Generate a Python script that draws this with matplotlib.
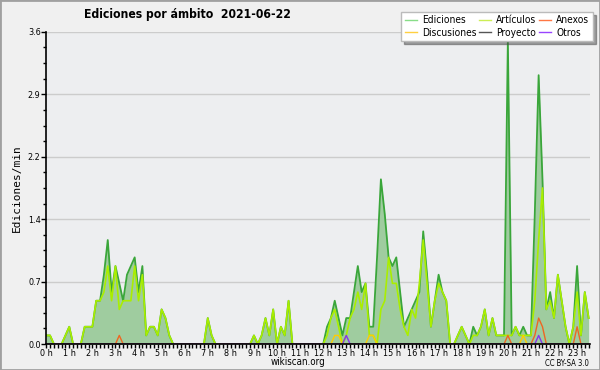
import numpy as np
import matplotlib
matplotlib.use("Agg")
import matplotlib.pyplot as plt
from matplotlib.lines import Line2D
from matplotlib.patches import Rectangle

# edits per minute, 10 minute buckets from 00:00
ediciones = [0.1, 0.1, 0, 0, 0, 0.1, 0.2, 0, 0, 0,
             0.2, 0.2, 0.2, 0.5, 0.5, 0.8, 1.2, 0.6, 0.9, 0.7,
             0.5, 0.8, 0.9, 1.0, 0.6, 0.9, 0.1, 0.2, 0.2, 0.1,
             0.4, 0.3, 0.1, 0, 0, 0, 0, 0, 0, 0,
             0, 0, 0.3, 0.1, 0, 0, 0, 0, 0, 0,
             0, 0, 0, 0, 0.1, 0, 0.1, 0.3, 0.1, 0.4,
             0, 0.2, 0.1, 0.5, 0, 0, 0, 0, 0, 0,
             0, 0, 0, 0.2, 0.3, 0.5, 0.3, 0.1, 0.3, 0.3,
             0.6, 0.9, 0.6, 0.7, 0.2, 0.2, 1.0, 1.9, 1.5, 1.0,
             0.9, 1.0, 0.6, 0.2, 0.3, 0.4, 0.5, 0.6, 1.3, 0.8,
             0.2, 0.5, 0.8, 0.6, 0.5, 0, 0, 0.1, 0.2, 0.1,
             0, 0.2, 0.1, 0.2, 0.4, 0.1, 0.3, 0.1, 0.1, 0.1,
             3.5, 0.1, 0.2, 0.1, 0.2, 0.1, 0.1, 1.5, 3.1, 1.9,
             0.4, 0.6, 0.3, 0.8, 0.5, 0.2, 0, 0.2, 0.9, 0.1,
             0.6, 0.3]
articulos = [0.1, 0.1, 0, 0, 0, 0.1, 0.2, 0, 0, 0,
             0.2, 0.2, 0.2, 0.5, 0.5, 0.6, 0.9, 0.5, 0.9, 0.4,
             0.5, 0.5, 0.5, 0.9, 0.5, 0.8, 0.1, 0.2, 0.2, 0.1,
             0.4, 0.3, 0.1, 0, 0, 0, 0, 0, 0, 0,
             0, 0, 0.3, 0.1, 0, 0, 0, 0, 0, 0,
             0, 0, 0, 0, 0.1, 0, 0.1, 0.3, 0.1, 0.4,
             0, 0.2, 0.1, 0.5, 0, 0, 0, 0, 0, 0,
             0, 0, 0, 0.1, 0.3, 0.4, 0.2, 0, 0.1, 0.3,
             0.4, 0.6, 0.4, 0.7, 0.1, 0.1, 0, 0.4, 0.5, 1.0,
             0.7, 0.7, 0.4, 0.2, 0.1, 0.4, 0.3, 0.7, 1.2, 0.7,
             0.2, 0.5, 0.7, 0.6, 0.5, 0, 0, 0.1, 0.2, 0.1,
             0, 0.1, 0.1, 0.2, 0.4, 0.1, 0.3, 0.1, 0.1, 0.1,
             0.1, 0.1, 0.2, 0.1, 0.1, 0.1, 0.1, 0.5, 1.2, 1.8,
             0.4, 0.5, 0.3, 0.8, 0.5, 0.2, 0, 0.2, 0.6, 0.1,
             0.6, 0.3]

n = len(ediciones)
anexos = np.zeros(n)
anexos[[19, 120, 127, 128, 129, 138]] = [0.1, 0.1, 0.1, 0.3, 0.2, 0.2]
discusiones = np.zeros(n)
discusiones[[75, 76, 84, 85, 124]] = [0.1, 0.1, 0.1, 0.1, 0.1]
proyecto = np.zeros(n)
otros = np.zeros(n)
otros[[78, 128]] = [0.1, 0.1]

hours = np.arange(n) / 6
hour_labels = [f"{h} h" for h in range(24)]

plt.rcParams["font.stretch"] = "condensed"

fig = plt.figure(figsize=(6, 3.7), dpi=100, facecolor="#f0f0f0")
ax = fig.add_axes([0.077, 0.07, 0.906, 0.844], facecolor="#edeef0")

ax.fill_between(hours, ediciones, color="#9fcc9f", lw=0)
ax.plot(hours, ediciones, color="#3aa63a", lw=1.3)
ax.plot(hours, articulos, color="#aaee00", lw=1.2)
ax.plot(hours, anexos, color="#ee6622", lw=1.0)
ax.plot(hours, discusiones, color="#ffcc00", lw=1.0)
ax.plot(hours, proyecto, color="#555555", lw=1.0)
ax.plot(hours, otros, color="#8833ee", lw=1.0)

ax.set_xlim(0, 141.3 / 6)
ax.set_ylim(0, 3.6)
yt = np.linspace(0, 3.6, 6)
ax.set_yticks(yt)
ax.set_yticklabels([f"{v:.1f}" for v in yt])
ax.set_yticks(np.arange(0, 3.61, 0.18), minor=True)
ax.set_xticks(range(24))
ax.set_xticklabels(hour_labels)
ax.set_xticks(np.arange(0, 23.6, 1 / 6), minor=True)
ax.tick_params(axis="both", labelsize=6.5, length=3.5, width=1, pad=0.5)
ax.tick_params(axis="both", which="minor", length=2.5, width=1)
ax.tick_params(axis="x", which="both", length=3)
ax.grid(axis="y", color="#cccccc", lw=1)
ax.set_axisbelow(True)
for s in ["top", "right"]:
    ax.spines[s].set_visible(False)
for s in ["left", "bottom"]:
    ax.spines[s].set_linewidth(1.2)

ax.set_ylabel("Ediciones/min", family="DejaVu Sans Mono", fontsize=8, labelpad=4)
fig.text(0.312, 0.962, "Ediciones por ámbito  2021-06-22", ha="center", va="center",
         fontsize=8.7, fontweight="bold")
fig.text(0.497, 0.021, "wikiscan.org", ha="center", va="center", fontsize=7)
fig.text(0.982, 0.018, "CC BY-SA 3.0", ha="right", va="center", fontsize=5.5)

names = ["Ediciones", "Discusiones", "Artículos", "Proyecto", "Anexos", "Otros"]
colors = ["#88dd88", "#ffd040", "#ccee55", "#555555", "#ff7744", "#9944ff"]
handles = [Line2D([], [], color=c, lw=1) for c in colors]
leg = fig.legend(handles, names, ncol=3, loc="upper right", bbox_to_anchor=(0.988, 0.968),
                 borderaxespad=0, fontsize=7.3, handlelength=1.2, handletextpad=0.5,
                 columnspacing=0.25, labelspacing=0.25, borderpad=0.35, fancybox=False,
                 shadow=True, framealpha=1, edgecolor="#bbbbbb")

fig.add_artist(Rectangle((0, 0), 1, 1, transform=fig.transFigure, fill=False,
                         edgecolor="#a0a0a0", lw=2))

fig.savefig("out.png", dpi=100, facecolor=fig.get_facecolor())
